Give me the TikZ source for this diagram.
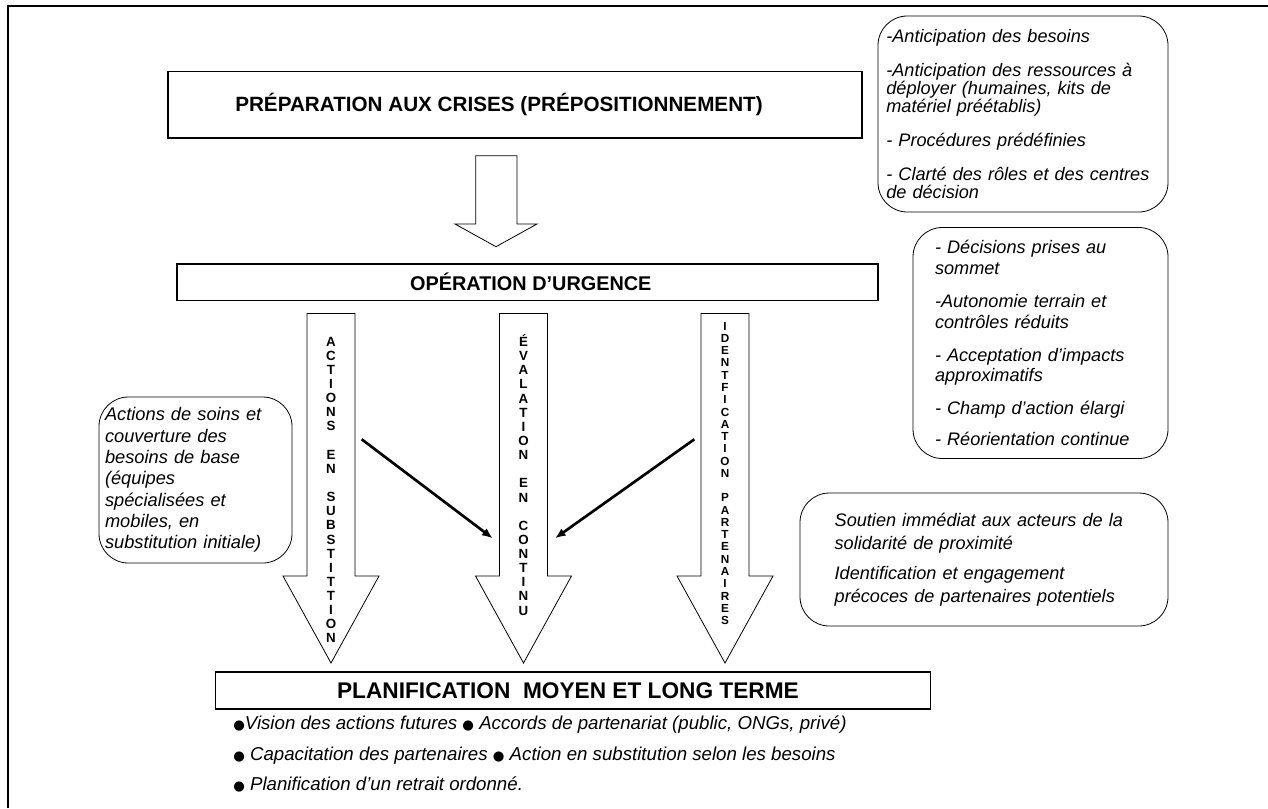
\documentclass[tikz,border=0pt]{standalone}
\usepackage{fontspec}
\setmainfont{Liberation Sans}
\newfontfamily\symfont{DejaVu Sans}
\usetikzlibrary{arrows.meta}

\newcommand{\blt}{{\symfont\fontsize{10}{10}\selectfont ●}}
\newcommand{\gap}{10.6pt}

\begin{document}
\begin{tikzpicture}
[x=0.75pt,y=-0.75pt,
  titleDecorate/.style={shape=rectangle,draw,line width=0.8pt,inner sep=0pt,%
    font=\bfseries\fontsize{14.9}{18}\selectfont},%
  noteDecorate/.style={shape=rectangle,draw,rounded corners=22pt,line width=0.6pt,%
    inner sep=0pt,align=left},%
  arrowDecorate/.style={draw,line width=0.6pt,fill=white},%
  letterDecorate/.style={align=center,inner sep=0pt,%
    font=\bfseries\fontsize{10}{10.6}\selectfont},%
  lineDecorate/.style={-{Latex[length=8pt,width=6.5pt]},line width=2pt}]
\useasboundingbox (0,0) rectangle (1268,808);
%% outer frame
\draw[line width=1.5pt] (8,808) -- (8,6) -- (1268,6);
%% main boxes
\node (prep) at (515,104.75) [titleDecorate,minimum width=520.5pt,minimum height=49.9pt,
  font=\bfseries\fontsize{15.5}{18}\selectfont]
  {PRÉPARATION AUX CRISES (PRÉPOSITIONNEMENT)\kern24pt};
\node (urg) at (527.5,282.25) [titleDecorate,minimum width=525.75pt,minimum height=27.4pt]
  {\kern5pt OPÉRATION D’URGENCE};
\node (plan) at (573.3,690.5) [titleDecorate,minimum width=536.3pt,minimum height=27.75pt,
  font=\bfseries\fontsize{17}{18}\selectfont]
  {PLANIFICATION\ \ MOYEN ET LONG TERME\kern8pt};
%% block arrows
\draw[arrowDecorate] (475.7,155.7) -- (517,155.7) -- (517,224) -- (537,224)
  -- (496,246.7) -- (455,224) -- (475.7,224) -- cycle;
\foreach \cx in {331, 523.5, 725}
{
  \draw[arrowDecorate] (\cx-24,313.5) -- (\cx+24,313.5) -- (\cx+24,576) -- (\cx+48,576)
    -- (\cx,663) -- (\cx-48,576) -- (\cx-24,576) -- cycle;
}
%% letters in the arrows
\node (subst) at (331,490) [letterDecorate]
  {A\\C\\T\\I\\O\\N\\S\\[\gap]E\\N\\[\gap]S\\U\\B\\S\\T\\I\\T\\T\\I\\O\\N};
\node (eval) at (523.5,475) [letterDecorate]
  {É\\V\\A\\L\\A\\T\\I\\O\\N\\[\gap]E\\N\\[\gap]C\\O\\N\\T\\I\\N\\U};
\node (partn) at (725,473.4) [letterDecorate,font=\bfseries\fontsize{8.8}{9.2}\selectfont]
  {I\\D\\E\\N\\T\\F\\I\\C\\A\\T\\I\\O\\N\\[9.2pt]P\\A\\R\\T\\E\\N\\A\\I\\R\\E\\S};
%% diagonal arrows
\coordinate (substout) at (361.7,439.3);
\coordinate (evalinl) at (492.7,538.3);
\coordinate (partnout) at (694.3,439.3);
\coordinate (evalinr) at (555,538.3);
\draw[lineDecorate] (substout) -- (evalinl);
\draw[lineDecorate] (partnout) -- (evalinr);
%% side notes
\node (prepnote) at (1023,114) [noteDecorate,minimum width=217.5pt,minimum height=147pt,
  text width=205pt,font=\itshape\fontsize{13.6}{13.5}\selectfont]
  {-Anticipation des besoins\\[12pt]-Anticipation des ressources à\\déployer (humaines, kits de\\%
   matériel préétablis)\\[12pt]- Procédures prédéfinies\\[12pt]- Clarté des rôles et des centres\\%
   de décision};
\node (urgnote) at (1040.5,343) [noteDecorate,minimum width=191.25pt,minimum height=173.25pt,
  text width=158.25pt,font=\itshape\fontsize{13.6}{15.2}\selectfont]
  {- Décisions prises au\\sommet\\[10pt]-Autonomie terrain et\\contrôles réduits\\[10pt]%
   - Acceptation d’impacts\\approximatifs\\[9pt]- Champ d’action élargi\\[8pt]%
   - Réorientation continue};
\node (soutien) at (984,559.5) [noteDecorate,minimum width=276pt,minimum height=99.75pt,
  text width=224pt,font=\itshape\fontsize{13.6}{17.3}\selectfont]
  {Soutien immédiat aux acteurs de la\\solidarité de proximité\\[5pt]%
   Identification et engagement\\précoces de partenaires potentiels};
\node (soins) at (195.5,480) [noteDecorate,minimum width=144.75pt,minimum height=124.5pt,
  text width=135.75pt,font=\itshape\fontsize{13.7}{16}\selectfont]
  {Actions de soins et\\couverture des\\besoins de base\\(équipes\\spécialisées et\\%
   mobiles, en\\substitution initiale)};
%% list under the last box
\node (planlist) at (233,754) [anchor=west,align=left,inner sep=0pt,
  font=\itshape\fontsize{14}{22.8}\selectfont]
  {\blt Vision des actions futures \blt\ Accords de partenariat (public, ONGs, privé)\\
   \blt\ Capacitation des partenaires \blt\ Action en substitution selon les besoins\\
   \blt\ Planification d’un retrait ordonné.};
\end{tikzpicture}
\end{document}
